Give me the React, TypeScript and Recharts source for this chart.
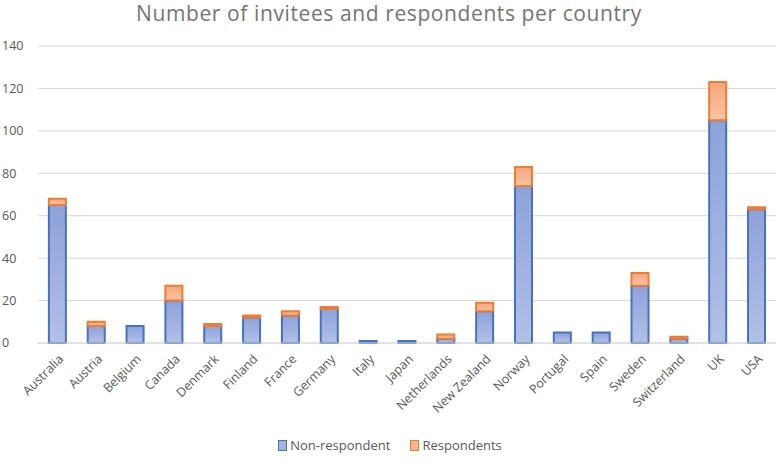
import React from 'react';
import { BarChart, Bar, XAxis, YAxis, CartesianGrid, Legend } from 'recharts';

const countries = [
  'Australia', 'Austria', 'Belgium', 'Canada', 'Denmark', 'Finland', 'France', 'Germany',
  'Italy', 'Japan', 'Netherlands', 'New Zealand', 'Norway', 'Portugal', 'Spain', 'Sweden',
  'Switzerland', 'UK', 'USA',
];
const nonRespondent = [65, 8, 8, 20, 8, 12, 13, 16, 1, 1, 2, 15, 74, 5, 5, 27, 2, 105, 63];
const respondents = [3, 2, 0, 7, 1, 1, 2, 1, 0, 0, 2, 4, 9, 0, 0, 6, 1, 18, 1];
const yTicks = [0, 20, 40, 60, 80, 100, 120, 140];

const data = countries.map((country, i) => ({
  country,
  nonRespondent: nonRespondent[i],
  respondents: respondents[i],
}));

const FONT = '"Open Sans", "Liberation Sans", sans-serif';
const LABEL = '#595959';

const XTick = (props: any) => {
  const { x, y, payload } = props;
  return (
    <g transform={`translate(${x + 4},${y + 6})`}>
      <text
        textAnchor="end"
        transform="rotate(-45)"
        fill={LABEL}
        fontSize={12.5}
        fontFamily={FONT}
        dy={4}
      >
        {payload.value}
      </text>
    </g>
  );
};

const LegendContent = () => (
  <div
    style={{
      display: 'flex',
      justifyContent: 'center',
      gap: 20,
      fontFamily: FONT,
      fontSize: 13,
      color: LABEL,
    }}
  >
    {[
      { name: 'Non-respondent', fill: '#a3b3e0', stroke: '#4472c4' },
      { name: 'Respondents', fill: '#f6b48f', stroke: '#ed7d31' },
    ].map((item) => (
      <span key={item.name} style={{ display: 'flex', alignItems: 'center' }}>
        <span
          style={{
            display: 'inline-block',
            width: 7,
            height: 9,
            background: item.fill,
            border: `1.5px solid ${item.stroke}`,
            marginRight: 3,
          }}
        />
        {item.name}
      </span>
    ))}
  </div>
);

export default function App() {
  return (
    <div style={{ position: 'absolute', left: 0, top: 0, width: 778, height: 462, background: '#fff' }}>
      <div
        style={{
          position: 'absolute',
          top: -1,
          width: '100%',
          textAlign: 'center',
          fontFamily: FONT,
          fontSize: 21,
          letterSpacing: 0.6,
          color: '#757575',
        }}
      >
        Number of invitees and respondents per country
      </div>
      <BarChart
        width={778}
        height={462}
        data={data}
        margin={{ top: 46, right: 2, left: 4, bottom: 8 }}
        barCategoryGap="28%"
      >
        <defs>
          <linearGradient id="blueFill" x1="0" y1="0" x2="0" y2="1">
            <stop offset="0%" stopColor="#8ea2da" />
            <stop offset="100%" stopColor="#b2c0e7" />
          </linearGradient>
          <linearGradient id="orangeFill" x1="0" y1="0" x2="0" y2="1">
            <stop offset="0%" stopColor="#f4a77c" />
            <stop offset="100%" stopColor="#f8c3a4" />
          </linearGradient>
        </defs>
        <CartesianGrid vertical={false} stroke="#d9d9d9" />
        <XAxis
          dataKey="country"
          interval={0}
          tick={<XTick />}
          tickLine={false}
          axisLine={{ stroke: '#d9d9d9' }}
          height={93}
        />
        <YAxis
          domain={[0, 140]}
          ticks={yTicks}
          tickLine={false}
          axisLine={false}
          width={34}
          tick={{ fill: LABEL, fontSize: 12.5, fontFamily: FONT, textAnchor: 'start', dx: -28 }}
        />
        <Legend verticalAlign="bottom" content={<LegendContent />} />
        <Bar
          dataKey="nonRespondent"
          name="Non-respondent"
          stackId="a"
          fill="url(#blueFill)"
          stroke="#4472c4"
          strokeWidth={2}
          isAnimationActive={false}
        />
        <Bar
          dataKey="respondents"
          name="Respondents"
          stackId="a"
          fill="url(#orangeFill)"
          stroke="#ed7d31"
          strokeWidth={2}
          isAnimationActive={false}
        />
      </BarChart>
    </div>
  );
}
